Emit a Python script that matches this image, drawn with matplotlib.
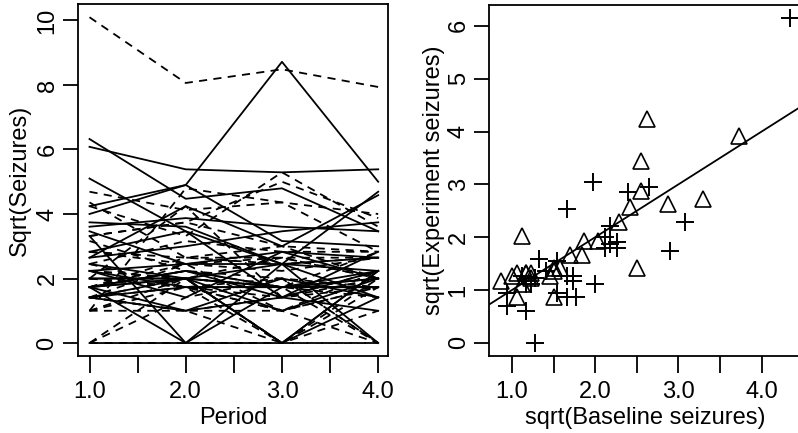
import numpy as np
import matplotlib
matplotlib.use("Agg")
import matplotlib.pyplot as plt

# Thall & Vail epilepsy data: seizure counts in four 2-week periods, 8-week baseline
placebo_counts = [
    [5, 3, 3, 3], [3, 5, 3, 3], [2, 4, 0, 5], [4, 4, 1, 4], [7, 18, 9, 21],
    [5, 2, 8, 7], [6, 4, 0, 2], [40, 20, 23, 12], [5, 6, 6, 5], [14, 13, 6, 0],
    [26, 12, 6, 22], [12, 6, 8, 4], [4, 4, 6, 2], [7, 9, 12, 14], [16, 24, 10, 9],
    [11, 0, 0, 5], [0, 0, 3, 3], [37, 29, 28, 29], [3, 5, 2, 5], [3, 0, 6, 7],
    [3, 4, 3, 4], [3, 4, 3, 4], [2, 3, 3, 5], [8, 12, 2, 8], [18, 24, 76, 25],
    [2, 1, 2, 1], [3, 1, 4, 2], [13, 15, 13, 12],
]
placebo_base = [11, 11, 6, 8, 66, 27, 12, 52, 23, 10, 52, 33, 18, 42, 87,
                50, 18, 111, 18, 20, 12, 9, 17, 28, 55, 9, 10, 47]

progabide_counts = [
    [11, 14, 9, 8], [8, 7, 9, 4], [0, 4, 3, 0], [3, 6, 1, 3], [2, 6, 7, 4],
    [4, 3, 1, 3], [22, 17, 19, 16], [5, 4, 7, 4], [2, 4, 0, 4], [3, 7, 7, 7],
    [4, 18, 2, 5], [2, 1, 1, 0], [0, 2, 4, 0], [5, 4, 0, 3], [11, 14, 25, 15],
    [10, 5, 3, 8], [19, 7, 6, 7], [1, 1, 2, 3], [6, 10, 8, 8], [2, 1, 0, 0],
    [102, 65, 72, 63], [4, 3, 2, 4], [8, 6, 5, 7], [1, 3, 1, 5], [18, 11, 28, 13],
    [6, 3, 4, 0], [3, 5, 4, 3], [1, 23, 19, 8], [2, 3, 0, 1], [0, 0, 0, 0],
    [1, 4, 3, 2],
]
progabide_base = [76, 38, 19, 10, 19, 24, 31, 14, 11, 67, 41, 7, 22, 13, 46,
                  36, 38, 7, 36, 11, 151, 22, 41, 32, 56, 24, 16, 22, 25, 13, 12]

periods = [1, 2, 3, 4]

plt.rcParams['font.family'] = ['Liberation Sans', 'DejaVu Sans']
plt.rcParams['font.size'] = 17

fig = plt.figure(figsize=(7.98, 4.33), dpi=100)
ax1 = fig.add_axes([0.0977, 0.178, 0.3883, 0.812])
ax2 = fig.add_axes([0.613, 0.178, 0.392, 0.81])

lw = 1.3
for c in placebo_counts:
    ax1.plot(periods, np.sqrt(c), color='black', lw=lw, ls='-')
for c in progabide_counts:
    ax1.plot(periods, np.sqrt(c), color='black', lw=lw, ls=(0, (4.5, 3.5)))

ax1.set_xlim(0.88, 4.1)
ax1.set_ylim(-0.4, 10.5)
ax1.set_xticks(np.arange(1.0, 4.01, 0.5))
ax1.set_xticklabels(['1.0', '', '2.0', '', '3.0', '', '4.0'])
ax1.set_yticks([0, 2, 4, 6, 8, 10])
ax1.set_xlabel('Period', labelpad=3)
ax1.set_ylabel('Sqrt(Seizures)', labelpad=4)

# right panel: weekly rates
pl_x = np.sqrt(np.array(placebo_base) / 8)
pl_y = np.sqrt(np.array(placebo_counts).sum(axis=1) / 8)
pr_x = np.sqrt(np.array(progabide_base) / 8)
pr_y = np.sqrt(np.array(progabide_counts).sum(axis=1) / 8)

ax2.plot(pl_x, pl_y, ls='none', marker='^', ms=11, mfc='none', mec='black', mew=1.2)
ax2.plot(pr_x, pr_y, ls='none', marker='+', ms=13, mec='black', mew=1.4)

# identity line: no change from baseline
ax2.axline((0, 0), slope=1, color='black', lw=lw)

ax2.set_xlim(0.727, 4.484)
ax2.set_ylim(-0.246, 6.39)
ax2.set_xticks(np.arange(1.0, 4.01, 0.5))
ax2.set_xticklabels(['1.0', '', '2.0', '', '3.0', '', '4.0'])
ax2.set_yticks(range(7))
ax2.set_xlabel('sqrt(Baseline seizures)', labelpad=3)
ax2.set_ylabel('sqrt(Experiment seizures)', labelpad=2)

for ax in (ax1, ax2):
    for s in ax.spines.values():
        s.set_linewidth(1.3)
    ax.tick_params(axis='x', length=12, width=1.3, pad=6)
    ax.tick_params(axis='y', length=11, width=1.3, pad=3)
    for t in ax.get_yticklabels():
        t.set_rotation(90)
        t.set_va('center')

fig.savefig('out.png', dpi=100)
